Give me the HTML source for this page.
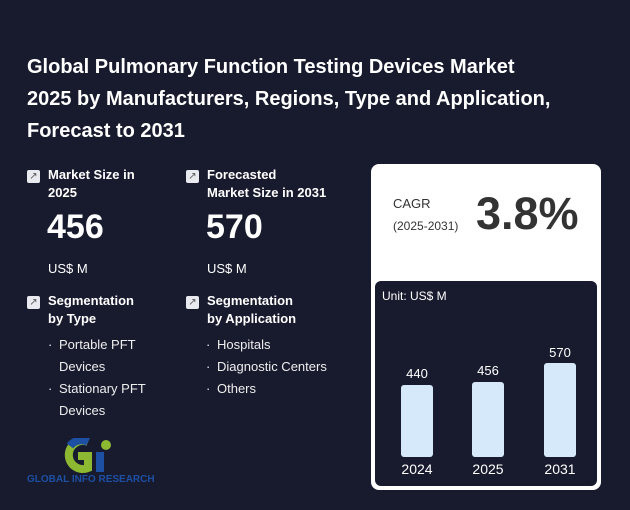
<!DOCTYPE html>
<html><head><style>
*{margin:0;padding:0;box-sizing:border-box}
body{width:630px;height:510px;background:#181b2e;font-family:"Liberation Sans",Arial,sans-serif;color:#fff;position:relative;overflow:hidden}
.a{position:absolute;white-space:nowrap}
.t{left:27px;top:51px;font-size:20px;font-weight:bold;line-height:32px}
.h{font-size:13px;font-weight:bold;line-height:18px}
.ic{width:13px;height:13px;background:#e8eaf0;border-radius:2px;color:#555;font-size:10px;line-height:13px;text-align:center}
.big{font-size:34px;font-weight:bold}
.u{font-size:13px}
.li{font-size:13px;line-height:22px;color:#eee}
.li div{position:relative;padding-left:11px}
.li div.d::before{content:"·";position:absolute;left:0}
.bar{position:absolute;background:#d6e9fb;border-radius:3px;width:32px}
.bl{position:absolute;font-size:13px;color:#fff;width:40px;text-align:center}
</style></head><body>
<div class="a t">Global Pulmonary Function Testing Devices Market<br>2025 by Manufacturers, Regions, Type and Application,<br>Forecast to 2031</div>

<div class="a ic" style="left:27px;top:170px">↗</div>
<div class="a h" style="left:48px;top:166px">Market Size in<br>2025</div>
<div class="a big" style="left:47px;top:208px">456</div>
<div class="a u" style="left:48px;top:261px">US$ M</div>

<div class="a ic" style="left:186px;top:170px">↗</div>
<div class="a h" style="left:207px;top:166px">Forecasted<br>Market Size in 2031</div>
<div class="a big" style="left:206px;top:208px">570</div>
<div class="a u" style="left:207px;top:261px">US$ M</div>

<div class="a ic" style="left:27px;top:296px">↗</div>
<div class="a h" style="left:48px;top:292px">Segmentation<br>by Type</div>
<div class="a ic" style="left:186px;top:296px">↗</div>
<div class="a h" style="left:207px;top:292px">Segmentation<br>by Application</div>

<div class="a li" style="left:48px;top:334px"><div class="d">Portable PFT</div><div>Devices</div><div class="d">Stationary PFT</div><div>Devices</div></div>
<div class="a li" style="left:206px;top:334px"><div class="d">Hospitals</div><div class="d">Diagnostic Centers</div><div class="d">Others</div></div>

<svg class="a" style="left:60px;top:438px" width="60" height="40">
<path d="M28 4 A14 14 0 1 0 28 30 L28 18 L18 18" fill="none" stroke="#8cb832" stroke-width="8"/>
<path d="M10 8 A14 14 0 0 1 28 4" fill="none" stroke="#1d4fa3" stroke-width="8"/>
<rect x="36" y="14" width="8" height="20" fill="#1d4fa3"/>
<circle cx="46" cy="7" r="5" fill="#8cb832"/>
</svg>
<div class="a" style="left:27px;top:474px;font-size:10px;font-weight:bold;color:#1d4fa3">GLOBAL INFO RESEARCH</div>

<div class="a" style="left:371px;top:164px;width:230px;height:326px;background:#fff;border-radius:8px"></div>
<div class="a" style="left:393px;top:193px;font-size:13px;color:#333;line-height:22px">CAGR<br><span style="font-size:12px">(2025-2031)</span></div>
<div class="a" style="left:476px;top:188px;font-size:45px;font-weight:bold;color:#333">3.8%</div>
<div class="a" style="left:375px;top:281px;width:222px;height:205px;background:#181b2e;border-radius:6px"></div>
<div class="a" style="left:382px;top:289px;font-size:12px">Unit: US$ M</div>

<div class="bar" style="left:401px;top:385px;height:72px"></div>
<div class="bar" style="left:472px;top:382px;height:75px"></div>
<div class="bar" style="left:544px;top:363px;height:94px"></div>
<div class="bl" style="left:397px;top:366px">440</div>
<div class="bl" style="left:468px;top:363px">456</div>
<div class="bl" style="left:540px;top:345px">570</div>
<div class="bl" style="left:397px;top:461px;font-size:14px">2024</div>
<div class="bl" style="left:468px;top:461px;font-size:14px">2025</div>
<div class="bl" style="left:540px;top:461px;font-size:14px">2031</div>
</body></html>
